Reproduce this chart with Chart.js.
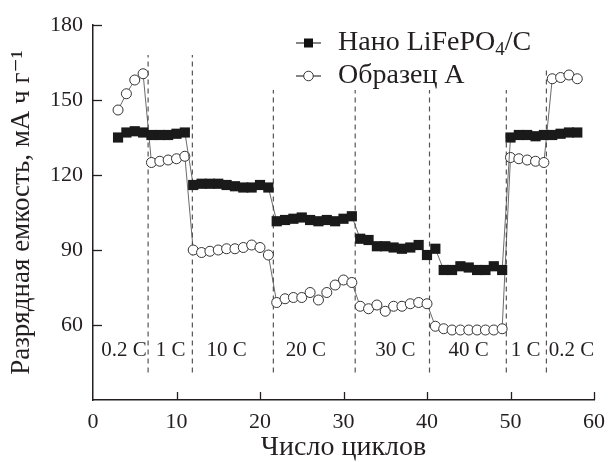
<!DOCTYPE html>
<html>
<head>
<meta charset="utf-8">
<script src="https://cdn.jsdelivr.net/npm/chart.js@4.4.1/dist/chart.umd.min.js"></script>
<style>
  html, body { margin: 0; padding: 0; background: #fff; }
  #wrap { width: 614px; height: 462px; }
</style>
</head>
<body>
<div id="wrap"><canvas id="rateChart"></canvas></div>
<script>
// Нано LiFePO4/C (чёрные квадраты)
const nanoCycles = [3, 4, 5, 6, 7, 8, 9, 10, 11, 12, 13, 14, 15, 16, 17, 18, 19, 20, 21,
  22, 23, 24, 25, 26, 27, 28, 29, 30, 31, 32, 33, 34, 35, 36, 37, 38, 39, 40, 41,
  42, 43, 44, 45, 46, 47, 48, 49, 50, 51, 52, 53, 54, 55, 56, 57, 58];
const nanoValues = [135, 137, 137.5, 137, 136, 136, 136, 136.5, 137,
  116, 116.5, 116.5, 116.5, 116, 115.5, 115, 115, 116, 115,
  101.5, 102, 102.5, 103, 102, 101.5, 102, 101.5, 102.5, 103.5,
  94.5, 94, 91.5, 91.5, 91, 90.5, 91, 92, 88, 90.5,
  82, 82, 83.5, 83, 82, 82, 83.5, 82,
  135, 136, 136, 135.5, 136, 136, 136.5, 137, 137];

// Образец А (светлые кружки)
const sampleCycles = [3, 4, 5, 6, 7, 8, 9, 10, 11, 12, 13, 14, 15, 16, 17, 18, 19, 20, 21,
  22, 23, 24, 25, 26, 27, 28, 29, 30, 31, 32, 33, 34, 35, 36, 37, 38, 39, 40,
  41, 42, 43, 44, 45, 46, 47, 48, 49, 50, 51, 52, 53, 54, 55, 56, 57, 58];
const sampleValues = [146, 152.5, 158, 160.5, 125, 125.5, 126, 126.5, 127.5,
  90, 89, 89.5, 90, 90.5, 90.5, 91, 92, 91, 88,
  69, 70.5, 71, 71, 73, 70, 73, 76, 78, 77,
  67.5, 66.5, 68, 65.5, 67.5, 67.5, 68.5, 69, 68.5,
  59.5, 58.5, 58, 58, 58, 58, 58, 58, 58.5,
  127, 126.5, 126, 125.5, 125,
  158.5, 159, 160, 158.5];

// границы режимов и подписи скоростей разряда
const rateBorders = [6.6, 11.9, 21.6, 31.4, 40.3, 49.5, 54.3];
const rateBorderTops = [168, 168, 154, 154, 154, 154, 162];
const rateLabels = ["0.2 C", "1 C", "10 C", "20 C", "30 C", "40 C", "1 C", "0.2 C"];
const rateLabelCycles = [3.7, 9.3, 16, 25.5, 36.2, 45, 51.8, 57.3];

const xTicks = [0, 10, 20, 30, 40, 50, 60];
const yTicks = [60, 90, 120, 150, 180];

const ink = "#231f20";
const serif = "'Liberation Serif', 'DejaVu Serif', serif";

const toPoints = (xs, ys) => xs.map((x, i) => ({ x: x, y: ys[i] }));

const decorPlugin = {
  id: "decor",
  beforeDatasetsDraw(chart) {
    const { ctx, scales: { x, y } } = chart;
    ctx.save();
    // пунктирные вертикальные линии
    ctx.strokeStyle = "#555";
    ctx.lineWidth = 1.2;
    ctx.setLineDash([5, 4]);
    rateBorders.forEach((c, i) => {
      const px = x.getPixelForValue(c);
      ctx.beginPath();
      ctx.moveTo(px, y.getPixelForValue(41));
      ctx.lineTo(px, y.getPixelForValue(rateBorderTops[i]));
      ctx.stroke();
    });
    ctx.setLineDash([]);
    // подписи режимов
    ctx.fillStyle = ink;
    ctx.font = "21px " + serif;
    ctx.textAlign = "center";
    ctx.textBaseline = "middle";
    rateLabels.forEach((t, i) => {
      ctx.fillText(t, x.getPixelForValue(rateLabelCycles[i]), y.getPixelForValue(50));
    });
    ctx.restore();
  },
  afterDraw(chart) {
    const { ctx, scales: { x, y } } = chart;
    ctx.save();
    ctx.strokeStyle = ink;
    ctx.lineWidth = 1.3;
    // засечки внутрь
    yTicks.forEach(v => {
      const py = Math.round(y.getPixelForValue(v)) + 0.5;
      ctx.beginPath();
      ctx.moveTo(x.left, py);
      ctx.lineTo(x.left + 9, py);
      ctx.stroke();
    });
    xTicks.slice(1).forEach(v => {
      const px = Math.round(x.getPixelForValue(v)) + 0.5;
      ctx.beginPath();
      ctx.moveTo(px, y.bottom);
      ctx.lineTo(px, y.bottom - 8);
      ctx.stroke();
    });

    // легенда
    const lx0 = 296, lx1 = 321, lm = 308.5, tx = 338;
    const r1 = 43, r2 = 76;
    ctx.lineWidth = 1.2;
    ctx.strokeStyle = "#333";
    [r1, r2].forEach(ry => {
      ctx.beginPath();
      ctx.moveTo(lx0, ry);
      ctx.lineTo(lx1, ry);
      ctx.stroke();
    });
    ctx.fillStyle = "#111";
    ctx.fillRect(lm - 4.5, r1 - 4.5, 9, 9);
    ctx.beginPath();
    ctx.arc(lm, r2, 4.8, 0, Math.PI * 2);
    ctx.fillStyle = "#fff";
    ctx.fill();
    ctx.lineWidth = 1;
    ctx.stroke();

    ctx.fillStyle = ink;
    ctx.textAlign = "left";
    ctx.textBaseline = "middle";
    ctx.font = "28px " + serif;
    const part1 = "Нано LiFePO";
    ctx.fillText(part1, tx, r1);
    let w = ctx.measureText(part1).width;
    ctx.font = "19px " + serif;
    ctx.fillText("4", tx + w, r1 + 7);
    w += ctx.measureText("4").width;
    ctx.font = "28px " + serif;
    ctx.fillText("/C", tx + w, r1);
    ctx.fillText("Образец А", tx, r2);
    ctx.restore();
  }
};

new Chart(document.getElementById("rateChart"), {
  type: "line",
  data: {
    datasets: [
      {
        label: "Нано LiFePO4/C",
        data: toPoints(nanoCycles, nanoValues),
        borderColor: "#444",
        borderWidth: 0.8,
        pointStyle: "rect",
        pointRadius: 7.2,
        pointBackgroundColor: "#1a1a1a",
        pointBorderColor: "#1a1a1a",
        pointBorderWidth: 0,
        tension: 0
      },
      {
        label: "Образец А",
        data: toPoints(sampleCycles, sampleValues),
        borderColor: "#444",
        borderWidth: 0.8,
        pointStyle: "circle",
        pointRadius: 5,
        pointBackgroundColor: "#fff",
        pointBorderColor: "#333",
        pointBorderWidth: 1,
        tension: 0
      }
    ]
  },
  options: {
    responsive: true,
    maintainAspectRatio: false,
    animation: false,
    layout: { padding: { top: 25, right: 14, left: 0, bottom: 0 } },
    plugins: {
      legend: { display: false },
      tooltip: { enabled: false }
    },
    scales: {
      x: {
        type: "linear",
        min: 0,
        max: 60,
        afterFit: s => { s.height = 62; },
        afterBuildTicks: s => { s.ticks = xTicks.map(v => ({ value: v })); },
        grid: { display: false, drawTicks: false },
        border: { display: true, color: ink, width: 1.5 },
        ticks: { color: ink, font: { family: serif, size: 22 }, padding: 9, maxRotation: 0 },
        title: {
          display: true,
          text: "Число циклов",
          color: ink,
          font: { family: serif, size: 28, lineHeight: 0.9 },
          padding: { top: 2, bottom: 2 }
        }
      },
      y: {
        min: 30,
        max: 180,
        afterFit: s => { s.width = 93; },
        afterBuildTicks: s => { s.ticks = yTicks.map(v => ({ value: v })); },
        grid: { display: false, drawTicks: false },
        border: { display: true, color: ink, width: 1.5 },
        ticks: { color: ink, font: { family: serif, size: 22 }, padding: 10 },
        title: {
          display: true,
          text: "Разрядная емкость, мА ч г⁻¹",
          color: ink,
          font: { family: serif, size: 27, lineHeight: 1 },
          padding: { top: 8, bottom: 8 }
        }
      }
    }
  },
  plugins: [decorPlugin]
});
</script>
</body>
</html>
